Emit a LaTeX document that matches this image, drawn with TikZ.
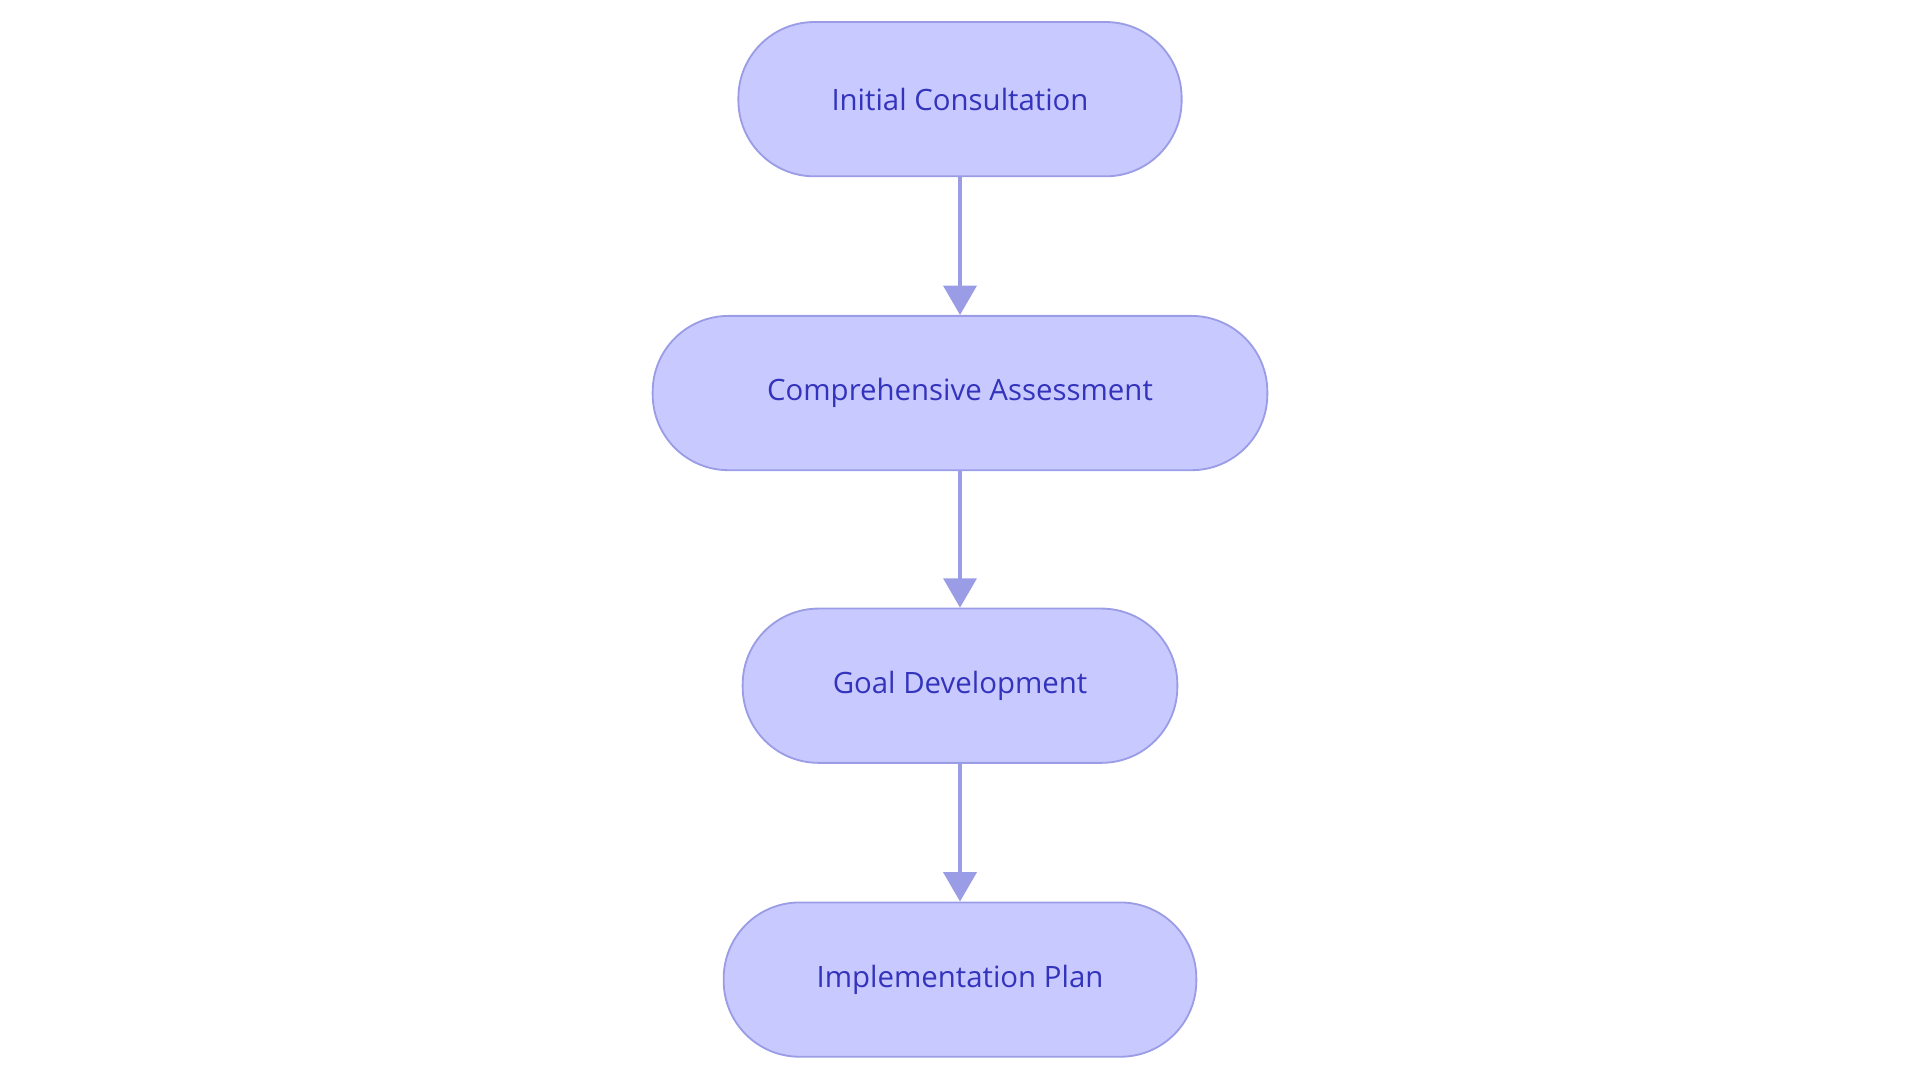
\documentclass[tikz,border=0pt]{standalone}
\usepackage{fontspec}
\setmainfont{Open Sans}
\usetikzlibrary{arrows.meta}
\definecolor{nfill}{HTML}{C8CAFF}
\definecolor{nline}{HTML}{9A9DE6}
\definecolor{ntext}{HTML}{3333BB}
\tikzset{
  stepbox/.style={draw=nline, line width=1.5pt, fill=nfill, rounded corners=62pt,
    minimum height=126pt, text=ntext, font=\fontsize{24}{28}\selectfont, inner sep=0pt},
  conn/.style={draw=nline, line width=3pt, -{Triangle[length=24pt,width=27pt]}}
}
\begin{document}
\begin{tikzpicture}[x=1pt,y=-1pt]
\useasboundingbox (0,0) rectangle (1568,885);
\node[stepbox, minimum width=362pt] (a) at (784,81) {Initial Consultation};
\node[stepbox, minimum width=502pt] (b) at (784,321) {Comprehensive Assessment};
\node[stepbox, minimum width=355pt] (c) at (784,560) {Goal Development};
\node[stepbox, minimum width=386pt] (d) at (784,800) {Implementation Plan};
\draw[conn] (a) -- (b);
\draw[conn] (b) -- (c);
\draw[conn] (c) -- (d);
\end{tikzpicture}
\end{document}
